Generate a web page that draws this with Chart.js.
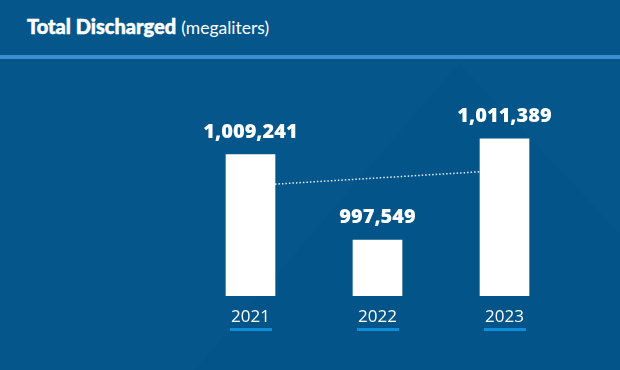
<!DOCTYPE html>
<html>
<head>
<meta charset="utf-8">
<script src="https://cdn.jsdelivr.net/npm/chart.js@4.4.1/dist/chart.umd.min.js"></script>
<style>
  html, body { margin: 0; padding: 0; }
  body {
    width: 620px; height: 370px; position: relative; overflow: hidden;
    background: #04568b; font-family: "Open Sans", sans-serif;
  }
  .shade {
    position: absolute; left: 0; top: 0; width: 620px; height: 370px;
    background: rgba(0, 0, 0, 0.018);
    clip-path: polygon(459px 63px, 620px 234px, 620px 370px, 195px 370px);
  }
  .title { position: absolute; left: 27px; top: 14px; color: #fff; font-family: Lato, sans-serif; font-size: 20px; white-space: nowrap; }
  .title b { font-weight: 900; -webkit-text-stroke: 0.5px #fff; }
  .title span { font-size: 17.5px; }
  .rule { position: absolute; left: 0; top: 55px; width: 620px; height: 4px; background: #3b8fd0; }
  #chart { position: absolute; left: 0; top: 0; }
</style>
</head>
<body>
<div class="shade"></div>
<div class="title"><b>Total Discharged</b> <span>(megaliters)</span></div>
<div class="rule"></div>
<canvas id="chart" width="620" height="370"></canvas>
<script>
const years = ["2021", "2022", "2023"];
const discharged = [1009241, 997549, 1011389];
// dotted connector between first and last year
const connector = [1005000, null, 1007100];
const yMin = 989900;
const yMax = 1020000;

// value labels above each bar
const valueLabels = {
    id: 'valueLabels',
    afterDatasetsDraw(chart) {
        const ctx = chart.ctx;
        const meta = chart.getDatasetMeta(1);
        ctx.save();
        ctx.fillStyle = '#ffffff';
        ctx.font = '800 20px "Open Sans"';
        ctx.textAlign = 'center';
        ctx.textBaseline = 'alphabetic';
        meta.data.forEach((bar, i) => {
            ctx.fillText(discharged[i].toLocaleString('en-US'), bar.x, bar.y - 17);
        });
        ctx.restore();
    }
};

// blue underline under the year labels
const yearUnderline = {
    id: 'yearUnderline',
    afterDraw(chart) {
        const ctx = chart.ctx;
        const xScale = chart.scales.x;
        ctx.save();
        ctx.font = '17px "Open Sans"';
        ctx.fillStyle = '#0b8fdb';
        years.forEach((yr, i) => {
            const x = xScale.getPixelForValue(i);
            const w = ctx.measureText(yr).width + 3;
            ctx.fillRect(Math.round(x - w / 2), xScale.top + 32, Math.round(w), 3);
        });
        ctx.restore();
    }
};

const dischargeChart = new Chart(document.getElementById('chart'), {
    type: 'bar',
    data: {
        labels: years,
        datasets: [{
            type: 'line',
            data: connector,
            borderColor: 'rgba(255,255,255,0.9)',
            borderWidth: 1.5,
            borderDash: [1.5, 2],
            pointRadius: 0,
            spanGaps: true,
            order: 2
        }, {
            data: discharged,
            backgroundColor: '#ffffff',
            borderWidth: 0,
            barThickness: 49,
            order: 1
        }]
    },
    options: {
        responsive: false,
        devicePixelRatio: 1,
        animation: false,
        layout: {
            padding: { left: 187, right: 52, top: 76, bottom: 31.6 }
        },
        scales: {
            x: {
                grid: { display: false, drawTicks: false, tickLength: 0 },
                border: { display: false },
                ticks: {
                    color: '#ffffff',
                    padding: 11,
                    font: { family: 'Open Sans', size: 17 }
                }
            },
            y: {
                display: false,
                min: yMin,
                max: yMax
            }
        },
        plugins: {
            legend: { display: false },
            tooltip: { enabled: false }
        }
    },
    plugins: [valueLabels, yearUnderline]
});
</script>
</body>
</html>
